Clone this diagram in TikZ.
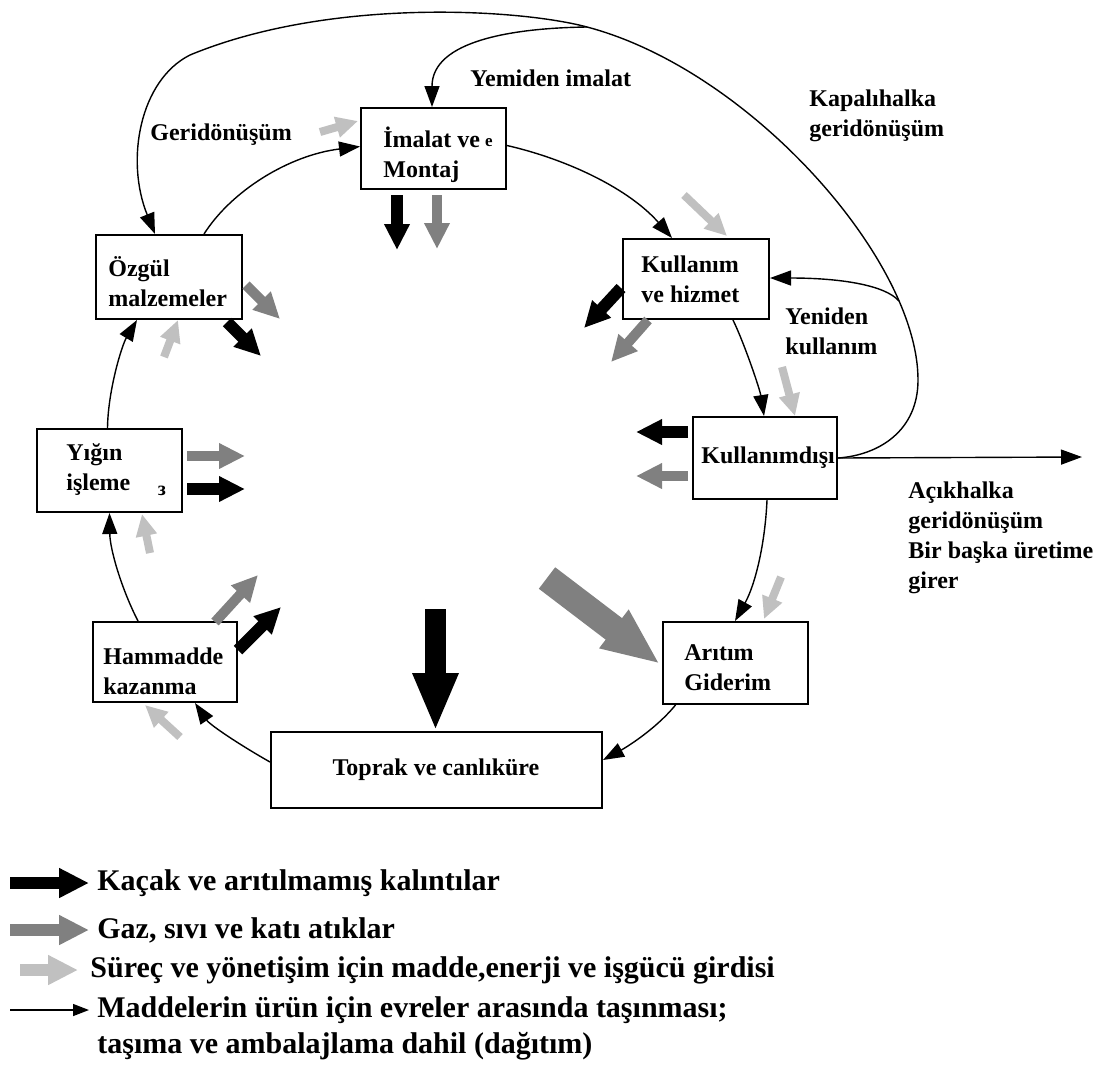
\documentclass[tikz,border=0pt]{standalone}
\usepackage{fontspec}
\setmainfont{Liberation Serif}
\usetikzlibrary{arrows.meta,calc}
\definecolor{wastegray}{HTML}{808080}
\definecolor{inputgray}{HTML}{C0C0C0}
\begin{document}
\begin{tikzpicture}[x=0.5pt,y=-0.5pt,
  stage/.style={draw, line width=1pt, inner sep=0pt},
  stagetext/.style={inner sep=0pt, anchor=west, align=left,
    font=\bfseries\fontsize{12}{15}\selectfont},
  note/.style={inner sep=0pt, align=left, font=\bfseries\fontsize{12}{15}\selectfont},
  legtext/.style={inner sep=0pt, anchor=west, font=\bfseries\fontsize{15}{18}\selectfont},
  flow/.style={line width=0.7pt, -{Triangle[length=10.5pt,width=7.5pt]}},
  fat/.style n args={3}{line width=#1, -{Triangle[length=#3,width=#2]}},
  leak/.style={black, fat={6pt}{12pt}{13pt}},
  waste/.style={wastegray, fat={5pt}{12pt}{13pt}},
  supply/.style={inputgray, fat={4pt}{10pt}{11pt}}]

\useasboundingbox (0,0) rectangle (1106,1072);
\fill[white] (0,0) rectangle (1106,1072);

% life-cycle stages
\node[stage, minimum width=72.5pt, minimum height=40.5pt] (imalat) at (433.5,148.5) {};
\node[stage, minimum width=73pt, minimum height=40pt] (kullanim) at (696,279) {};
\node[stage, minimum width=72pt, minimum height=41pt] (disi) at (765,458) {};
\node[stage, minimum width=72.5pt, minimum height=41pt] (aritim) at (735.5,663) {};
\node[stage, minimum width=165.5pt, minimum height=38pt] (toprak) at (436.5,770) {};
\node[stage, minimum width=72pt, minimum height=40pt] (hammadde) at (165,662) {};
\node[stage, minimum width=72.5pt, minimum height=41.5pt] (yigin) at (109.5,470.5) {};
\node[stage, minimum width=73pt, minimum height=42pt] (ozgul) at (169,277) {};

% stage names
\node[stagetext] (imalatname) at (383,154.5) {İmalat ve\\Montaj};
\node[inner sep=0pt, font=\bfseries\fontsize{8.5}{10}\selectfont] (imalatmark) at (489,143) {e};
\node[stagetext] (kullanimname) at (641,279.5) {Kullanım\\ve hizmet};
\node[stagetext] (disiname) at (701,458) {Kullanımdışı};
\node[stagetext] (aritimname) at (684,667.5) {Arıtım\\Giderim};
\node[stagetext, anchor=center] (toprakname) at (436,770) {Toprak ve canlıküre};
\node[stagetext] (hammaddename) at (103,671.5) {Hammadde\\kazanma};
\node[stagetext] (yiginname) at (66,469.5) {Yığın\\işleme};
\node[inner sep=0pt, font=\bfseries\fontsize{10}{11}\selectfont] (yiginmark) at (162,491) {з};
\node[stagetext] (ozgulname) at (108,281.5) {Özgül\\malzemeler};

% main cycle
\draw[flow] ($(ozgul.north)+(35,0)$) .. controls (232,190) and (290,155) .. ($(imalat.west)+(0,-2)$);
\draw[flow] ($(imalat.east)+(0,-3)$) .. controls (570,160) and (630,190) .. ($(kullanim.north)+(-24,0)$);
\draw[flow] ($(kullanim.south)+(37,0)$) .. controls (745,345) and (760,390) .. ($(disi.north)+(-1,0)$);
\draw[flow] ($(disi.south)+(2,0)$) .. controls (765,545) and (755,585) .. ($(aritim.north)+(-0.5,0)$);
\draw[flow] ($(aritim.south)+(-60,0)$) .. controls (655,730) and (625,748) .. ($(toprak.east)+(0,-10)$);
\draw[flow] ($(toprak.west)+(0,-8)$) .. controls (240,745) and (210,725) .. ($(hammadde.south)+(30,0)$);
\draw[flow] ($(hammadde.north)+(-27,0)$) .. controls (122,590) and (110,550) .. ($(yigin.south)+(0,0)$);
\draw[flow] ($(yigin.north)+(-2,0)$) .. controls (108,390) and (122,345) .. ($(ozgul.south)+(-32,0)$);

% closed-loop recycling, remanufacturing and reuse
\coordinate (split) at (587,27);
\coordinate (reuse) at (899,301);
\coordinate (open) at (1082,457);
\draw[flow] (disi.east) .. controls (880,455) and (918,430) .. (918,380)
  .. controls (918,260) and (750,70) .. (split)
  .. controls (520,9) and (330,-3) .. (190,55)
  .. controls (140,80) and (125,160) .. ($(ozgul.north)+(-14,0)$);
\draw[flow] (split) .. controls (515,28) and (432,40) .. ($(imalat.north)+(-1.5,0)$);
\draw[flow] (reuse) .. controls (885,285) and (840,278) .. ($(kullanim.east)+(0,-1)$);
\draw[flow] (disi.east) -- (open);

% flow labels
\node[note, anchor=west] (lblreman) at (470,78) {Yemiden imalat};
\node[note, anchor=west] (lblrecyc) at (150,135) {Geridönüşüm};
\node[note, anchor=west] (lblclosed) at (809,116) {Kapalıhalka\\geridönüşüm};
\node[note, anchor=west] (lblreuse) at (785,331) {Yeniden\\kullanım};
\node[note, anchor=west] (lblopen) at (908,538) {Açıkhalka\\geridönüşüm\\Bir başka üretime\\girer};

% emissions, wastes and inputs
\draw[leak] (397,195) -- (397,250);
\draw[waste] (437,195) -- (437,249);
\draw[supply] (320,132) -- (358,121);
\draw[waste] (246,285) -- (280,319);
\draw[leak] (227,322) -- (261,356);
\draw[supply] (164,357) -- (178,320);
\draw[supply] (684,195) -- (727,236);
\draw[leak] (621,288) -- (584,328);
\draw[waste] (648,320) -- (611,362);
\draw[supply] (782,367) -- (795,416);
\draw[leak] (688,432) -- (636,432);
\draw[waste] (688,476) -- (636,476);
\draw[supply] (781,577) -- (764,619);
\draw[wastegray, fat={13.5pt}{22pt}{29pt}] (547,578) -- (660,664);
\draw[black, fat={10.5pt}{21pt}{29pt}] (435.5,609) -- (435.5,731);
\draw[leak] (238,650) -- (281,607);
\draw[waste] (215,622) -- (258,575);
\draw[supply] (150,553) -- (142,514);
\draw[waste] (187,456) -- (245,456);
\draw[leak] (187,489) -- (245,489);
\draw[supply] (180,737) -- (145,705);

% legend
\node[legtext] (leg1) at (97,883) {Kaçak ve arıtılmamış kalıntılar};
\node[legtext] (leg2) at (97,930) {Gaz, sıvı ve katı atıklar};
\node[legtext] (leg3) at (90,970) {Süreç ve yönetişim için madde,enerji ve işgücü girdisi};
\node[legtext, align=left, anchor=north west] (leg4) at (97,996) {Maddelerin ürün için evreler arasında taşınması;\\taşıma ve ambalajlama dahil (dağıtım)};
\draw[black, fat={6pt}{14pt}{15pt}] ($(leg1.west)+(-87,0)$) -- ($(leg1.west)+(-8,0)$);
\draw[wastegray, fat={6pt}{14pt}{15pt}] ($(leg2.west)+(-87,0)$) -- ($(leg2.west)+(-8,0)$);
\draw[inputgray, fat={6pt}{14pt}{15pt}] ($(leg3.west)+(-70,0)$) -- ($(leg3.west)+(-12,0)$);
\draw[line width=0.7pt, -{Triangle[length=8pt,width=6pt]}] ($(leg4.north west)+(-87,14)$) -- ($(leg4.north west)+(-8,14)$);
\end{tikzpicture}
\end{document}
